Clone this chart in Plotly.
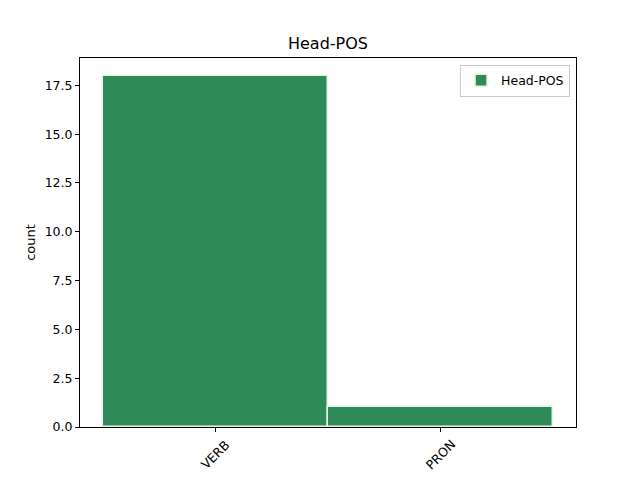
import plotly.graph_objects as go

categories = ["VERB", "PRON"]
counts = [18, 1]
series_name = "Head-POS"

x_pos = list(range(len(categories)))

fig = go.Figure()
fig.add_trace(go.Bar(
    x=x_pos, y=counts, name=series_name, width=1.0,
    marker=dict(color="#2E8B57", line=dict(color="#e6f3eb", width=1.5)),
    showlegend=True,
))

# page body has an 8px offset, so margins are shifted accordingly
fig.update_layout(
    width=640, height=480,
    margin=dict(l=72, r=72, t=50, b=61, autoexpand=False),
    paper_bgcolor="white", plot_bgcolor="white",
    font=dict(family="DejaVu Sans", size=12.5, color="black"),
    title=dict(text="Head-POS", x=(328 - 8) / 640, xanchor="center", y=1 - 35 / 480, yanchor="middle",
               font=dict(size=16)),
    showlegend=True,
    legend=dict(x=0.988, y=0.982, xanchor="right", yanchor="top",
                bgcolor="rgba(255,255,255,0.8)", bordercolor="#cccccc", borderwidth=1,
                font=dict(size=12.5), itemwidth=30, tracegroupgap=0),
    bargap=0,
)
for xp, label in zip(x_pos, categories):
    fig.add_annotation(x=xp, xref="x", y=0, yref="paper", yshift=-7,
                       text=label, textangle=-45, showarrow=False,
                       xanchor="center", yanchor="top", font=dict(size=12.5))
fig.update_xaxes(
    range=[-0.6, 1.6], tickvals=x_pos, ticktext=["", ""],
    showline=True, linecolor="black", linewidth=1, mirror=True, automargin=False,
    ticks="outside", ticklen=4, tickcolor="black", showgrid=False, zeroline=False,
)
fig.update_yaxes(
    range=[0, 18.9], tickvals=[0, 2.5, 5, 7.5, 10, 12.5, 15, 17.5],
    ticktext=["0.0", "2.5", "5.0", "7.5", "10.0", "12.5", "15.0", "17.5"],
    title=dict(text="count", standoff=6, font=dict(size=13)), automargin=False,
    showline=True, linecolor="black", linewidth=1, mirror=True,
    ticks="outside", ticklen=4, tickcolor="black", showgrid=False, zeroline=False,
)

fig.write_html("out.html")
